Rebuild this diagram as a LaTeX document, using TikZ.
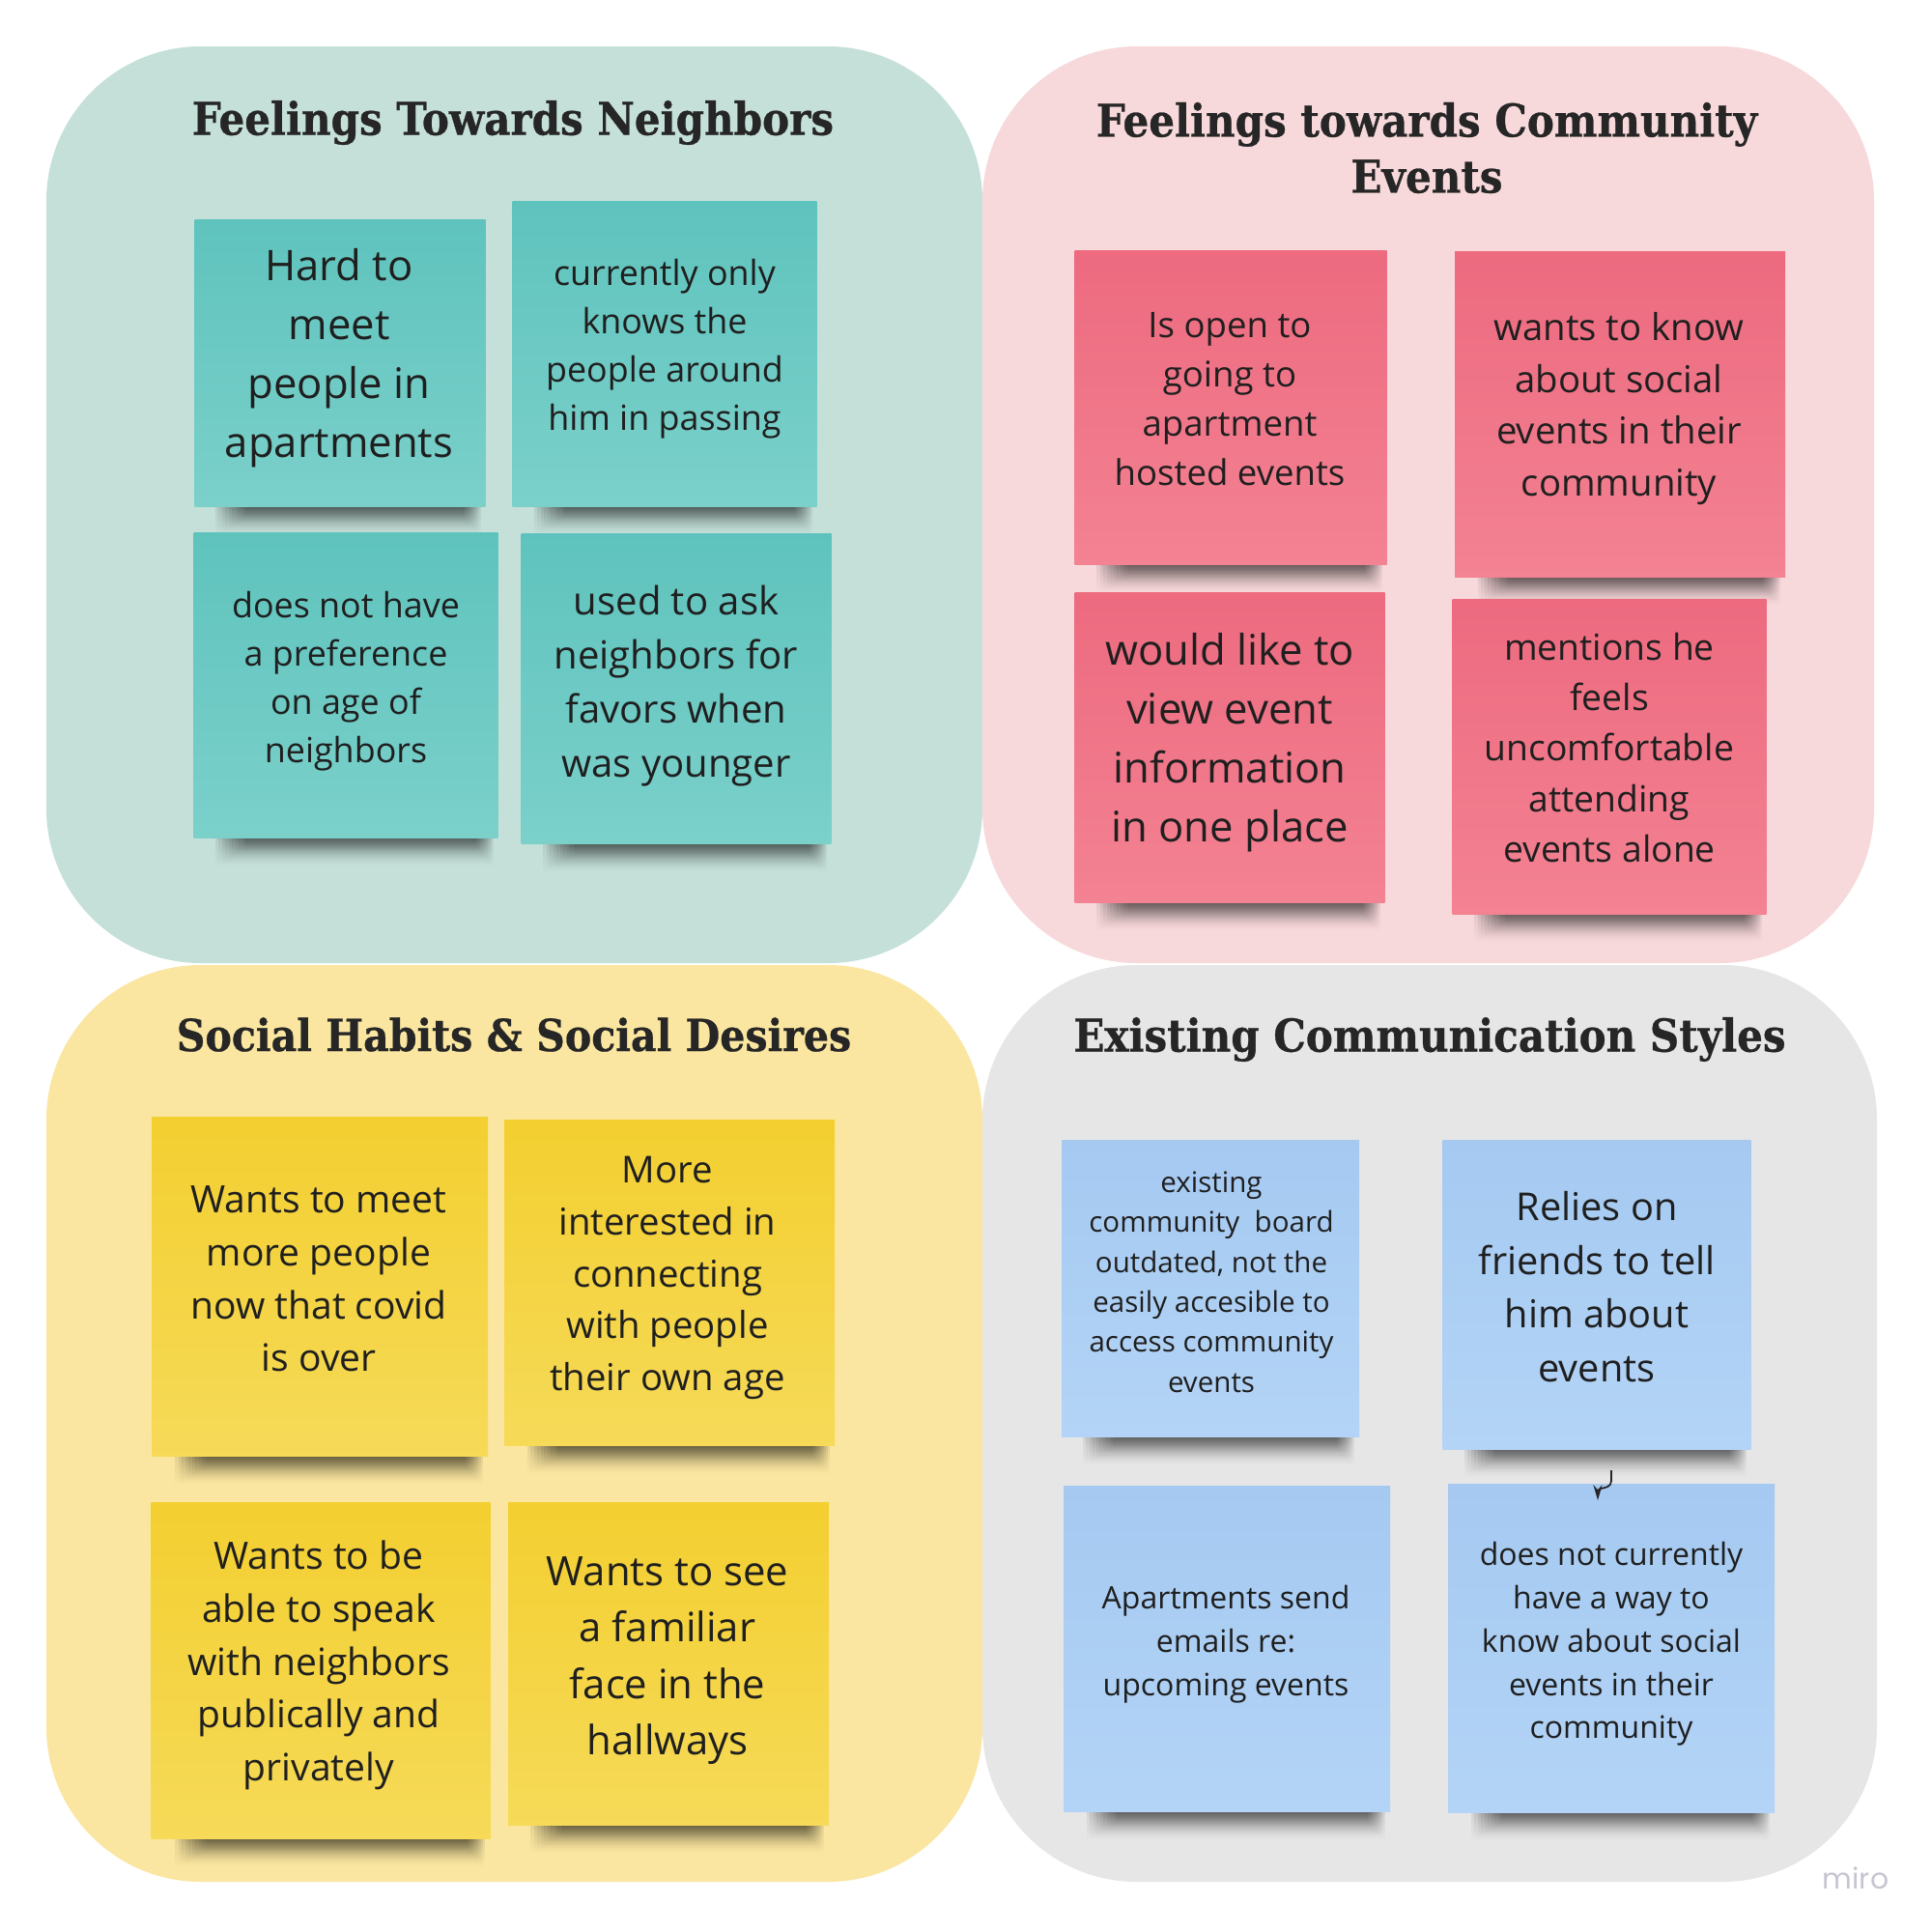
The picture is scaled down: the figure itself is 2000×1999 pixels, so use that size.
\documentclass[tikz,border=0pt]{standalone}
\usepackage{fontspec}
\setmainfont{Open Sans}
\newfontfamily\titlefont[FakeStretch=0.9,FakeBold=0.6]{DejaVu Serif}
\newfontfamily\mirofont{Poppins}
\usetikzlibrary{arrows.meta,fadings}
\definecolor{figink}{HTML}{1F1F1F}
\definecolor{figtitle}{HTML}{262626}
\definecolor{panelteal}{HTML}{C5E0D9}
\definecolor{panelpink}{HTML}{F8D9DB}
\definecolor{panelyellow}{HTML}{FAE6A0}
\definecolor{panelgray}{HTML}{E6E6E6}
\definecolor{noteteal}{HTML}{5FC3BD}
\definecolor{notetealtop}{HTML}{7BD0CA}
\definecolor{notepink}{HTML}{ED6A7F}
\definecolor{notepinklow}{HTML}{F38292}
\definecolor{noteyellow}{HTML}{F3CF30}
\definecolor{noteyellowlow}{HTML}{F6DA58}
\definecolor{noteblue}{HTML}{A5C9F1}
\definecolor{notebluelow}{HTML}{B3D4F6}
\definecolor{mirogray}{HTML}{C6C6D2}
\newcommand{\notesize}[1]{\fontsize{#1pt}{\fpeval{1.4*#1}pt}\selectfont}
\newcommand{\noteshadow}{%
  \foreach \k in {0,...,9} {
    \fill[shadowlayer] (\cx-0.43*\w+3.5*\k,\cy+0.5*\h-2) rectangle (\cx+0.485*\w-2*\k,\cy+0.5*\h+30-2*\k);
  }}
\tikzset{
  figpanel/.style={rounded corners=1.6cm},
  fignote/.style={draw=none, inner sep=0pt},
  shadowlayer/.style={fill=black, opacity=0.085, path fading=south},
  tealnote/.style={fignote, top color=noteteal, bottom color=notetealtop},
  pinknote/.style={fignote, top color=notepink, bottom color=notepinklow},
  yellownote/.style={fignote, top color=noteyellow, bottom color=noteyellowlow},
  bluenote/.style={fignote, top color=noteblue, bottom color=notebluelow},
  notetext/.style={text=figink, align=center, inner sep=0pt},
  figheading/.style={text=figtitle, align=center, inner sep=0pt,
    font=\titlefont\bfseries\fontsize{13.3pt}{16.5pt}\selectfont},
  figlink/.style={draw=figtitle, line width=0.5pt, -{Stealth[length=4.5pt,width=2.6pt]}}
}

\begin{document}
\begin{tikzpicture}[x=0.01cm,y=-0.01cm]
  \useasboundingbox (0,0) rectangle (2000,1999);
  \fill[white] (0,0) rectangle (2000,1999);
  % four panels
  \fill[figpanel,panelteal] (48,48) rectangle (1017,997);
  \fill[figpanel,panelpink] (1017,48) rectangle (1940,997);
  \fill[figpanel,panelyellow] (48,999) rectangle (1017,1948);
  \fill[figpanel,panelgray] (1017,999) rectangle (1943,1948);
  % headings
  \node[figheading] (neighborsTitle) at (531,127) {Feelings Towards Neighbors};
  \node[figheading] (eventsTitle) at (1477,153) {Feelings towards Community\\Events};
  \node[figheading, font=\titlefont\bfseries\fontsize{13pt}{16.5pt}\selectfont] (habitsTitle) at (532,1071) {Social Habits \& Social Desires};
  \node[figheading] (commTitle) at (1480,1076) {Existing Communication Styles};
  % neighbors notes
  \foreach \nm/\cx/\cy/\w/\h/\tx/\ty/\fs/\txt in {
    hardmeet/352/376/301/297/351/371/12.4/{Hard to\\meet\\people in\\apartments},
    passing/688/366/315/316/688/361/10.2/{currently only\\knows the\\people around\\him in passing},
    agepref/358/709/315/316/358/705/10.2/{does not have\\a preference\\on age of\\neighbors},
    favors/700/713/321/321/700/710/11.4/{used to ask\\neighbors for\\favors when\\was younger}} {
    \noteshadow
    \node[tealnote, minimum width=\w*0.01cm, minimum height=\h*0.01cm] (\nm) at (\cx,\cy) {};
    \node[notetext, font=\notesize{\fs}] (\nm-txt) at (\tx,\ty) {\txt};
  }
  % community events notes
  \foreach \nm/\cx/\cy/\w/\h/\tx/\ty/\fs/\txt in {
    hosted/1274/422/323/325/1273/413/10.4/{Is open to\\going to\\apartment\\hosted events},
    knowsocial/1677/429/342/337/1676/423/10.9/{wants to know\\about social\\events in their\\community},
    oneplace/1273/774/321/321/1273/769/12.4/{would like to\\view event\\information\\in one place},
    alone/1666/783/325/326/1666/774/10.6/{mentions he\\feels\\uncomfortable\\attending\\events alone}} {
    \noteshadow
    \node[pinknote, minimum width=\w*0.01cm, minimum height=\h*0.01cm] (\nm) at (\cx,\cy) {};
    \node[notetext, font=\notesize{\fs}] (\nm-txt) at (\tx,\ty) {\txt};
  }
  % habits and desires notes
  \foreach \nm/\cx/\cy/\w/\h/\tx/\ty/\fs/\txt in {
    meetmore/331/1332/348/351/330/1324/11.1/{Wants to meet\\more people\\now that covid\\is over},
    ownage/693/1328/342/337/691/1323/10.9/{More\\interested in\\connecting\\with people\\their own age},
    speak/332/1729/351/348/330/1724/11.1/{Wants to be\\able to speak\\with neighbors\\publically and\\privately},
    familiar/692/1722/332/334/691/1719/11.9/{Wants to see\\a familiar\\face in the\\hallways}} {
    \noteshadow
    \node[yellownote, minimum width=\w*0.01cm, minimum height=\h*0.01cm] (\nm) at (\cx,\cy) {};
    \node[notetext, font=\notesize{\fs}] (\nm-txt) at (\tx,\ty) {\txt};
  }
  % communication notes
  \foreach \nm/\cx/\cy/\w/\h/\tx/\ty/\fs/\txt in {
    board/1253/1334/308/307/1254/1327/8.4/{existing\\community\ \ board\\outdated, not the\\easily accesible to\\access community\\events},
    friends/1653/1340/319/320/1653/1332/11.3/{Relies on\\friends to tell\\him about\\events},
    emails/1270/1707/338/337/1269/1702/9.1/{Apartments send\\emails re:\\upcoming events},
    noway/1668/1706/338/340/1668/1702/9.1/{does not currently\\have a way to\\know about social\\events in their\\community}} {
    \noteshadow
    \node[bluenote, minimum width=\w*0.01cm, minimum height=\h*0.01cm] (\nm) at (\cx,\cy) {};
    \node[notetext, font=\notesize{\fs}] (\nm-txt) at (\tx,\ty) {\txt};
  }
  % small hooked arrow
  \coordinate (linkstart) at (1668,1522);
  \coordinate (linkend) at (1654,1553);
  \draw[figlink] (linkstart) -- (1668,1533) .. controls (1668,1539) and (1662,1540) .. (1657,1541)
    .. controls (1654,1542) and (1654,1545) .. (linkend);
  % watermark
  \node[text=mirogray, inner sep=0pt, font=\mirofont\fontsize{8.5pt}{10pt}\selectfont] (miromark) at (1921,1944) {miro};
\end{tikzpicture}
\end{document}
